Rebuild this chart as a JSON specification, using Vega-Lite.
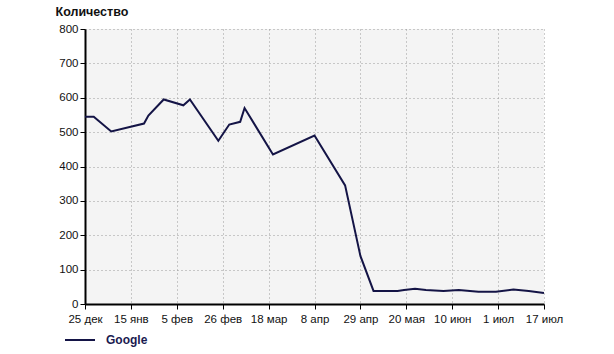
{
  "$schema": "https://vega.github.io/schema/vega-lite/v6.json",
  "autosize": {"type": "none"},
  "width": 459,
  "height": 275,
  "padding": {"left": 85, "top": 29, "right": 70, "bottom": 50},
  "background": "white",
  "data": {
    "values": [
      {"date": "2007-12-25", "count": 545, "series": "Google"},
      {"date": "2007-12-29", "count": 545, "series": "Google"},
      {"date": "2008-01-06", "count": 502, "series": "Google"},
      {"date": "2008-01-21", "count": 525, "series": "Google"},
      {"date": "2008-01-23", "count": 548, "series": "Google"},
      {"date": "2008-01-30", "count": 595, "series": "Google"},
      {"date": "2008-02-08", "count": 578, "series": "Google"},
      {"date": "2008-02-11", "count": 595, "series": "Google"},
      {"date": "2008-02-24", "count": 475, "series": "Google"},
      {"date": "2008-02-29", "count": 522, "series": "Google"},
      {"date": "2008-03-05", "count": 530, "series": "Google"},
      {"date": "2008-03-07", "count": 570, "series": "Google"},
      {"date": "2008-03-20", "count": 435, "series": "Google"},
      {"date": "2008-04-08", "count": 490, "series": "Google"},
      {"date": "2008-04-22", "count": 345, "series": "Google"},
      {"date": "2008-04-29", "count": 140, "series": "Google"},
      {"date": "2008-05-05", "count": 38, "series": "Google"},
      {"date": "2008-05-16", "count": 38, "series": "Google"},
      {"date": "2008-05-19", "count": 41, "series": "Google"},
      {"date": "2008-05-24", "count": 44, "series": "Google"},
      {"date": "2008-05-29", "count": 41, "series": "Google"},
      {"date": "2008-06-06", "count": 38, "series": "Google"},
      {"date": "2008-06-13", "count": 41, "series": "Google"},
      {"date": "2008-06-22", "count": 36, "series": "Google"},
      {"date": "2008-06-30", "count": 36, "series": "Google"},
      {"date": "2008-07-08", "count": 42, "series": "Google"},
      {"date": "2008-07-15", "count": 38, "series": "Google"},
      {"date": "2008-07-22", "count": 32, "series": "Google"}
    ]
  },
  "mark": {"type": "line", "strokeWidth": 2, "clip": true},
  "encoding": {
    "x": {
      "field": "date",
      "type": "temporal",
      "scale": {
        "type": "utc",
        "domain": [
          {"year": 2007, "month": 12, "date": 25, "utc": true},
          {"year": 2008, "month": 7, "date": 22, "utc": true}
        ],
        "nice": false
      },
      "axis": {
        "title": null,
        "values": [
          {"year": 2007, "month": 12, "date": 25, "utc": true},
          {"year": 2008, "month": 1, "date": 15, "utc": true},
          {"year": 2008, "month": 2, "date": 5, "utc": true},
          {"year": 2008, "month": 2, "date": 26, "utc": true},
          {"year": 2008, "month": 3, "date": 18, "utc": true},
          {"year": 2008, "month": 4, "date": 8, "utc": true},
          {"year": 2008, "month": 4, "date": 29, "utc": true},
          {"year": 2008, "month": 5, "date": 20, "utc": true},
          {"year": 2008, "month": 6, "date": 10, "utc": true},
          {"year": 2008, "month": 7, "date": 1, "utc": true},
          {"year": 2008, "month": 7, "date": 22, "utc": true}
        ],
        "labelExpr": "datum.index == 1 ? '17 июл' : utcdate(datum.value) + ' ' + ['янв','фев','мар','апр','мая','июн','июл','авг','сен','окт','ноя','дек'][utcmonth(datum.value)]",
        "labelPadding": 4,
        "labelFlush": false,
        "labelOverlap": false
      }
    },
    "y": {
      "field": "count",
      "type": "quantitative",
      "scale": {"domain": [0, 800], "nice": false},
      "axis": {
        "values": [0, 100, 200, 300, 400, 500, 600, 700, 800],
        "title": "Количество",
        "titleAngle": 0,
        "titleAlign": "left",
        "titleBaseline": "middle",
        "titleX": -30,
        "titleY": -18,
        "titleFont": "Liberation Sans",
        "titleFontSize": 12.5,
        "titleFontWeight": "bold",
        "titleColor": "#111111",
        "labelPadding": 2
      }
    },
    "color": {
      "field": "series",
      "type": "nominal",
      "scale": {"range": ["#141446"]},
      "legend": {
        "title": null,
        "orient": "none",
        "legendX": -21,
        "legendY": 295,
        "symbolType": "stroke",
        "symbolSize": 900,
        "symbolStrokeWidth": 2,
        "labelFont": "Liberation Sans",
        "labelFontSize": 12,
        "labelFontWeight": "bold",
        "labelColor": "#1a1a50",
        "labelOffset": 10
      }
    }
  },
  "config": {
    "view": {"fill": "#f4f4f4", "stroke": null},
    "axis": {
      "labelFont": "Liberation Sans",
      "labelFontSize": 11.5,
      "labelColor": "#111111",
      "domainColor": "#000000",
      "domainWidth": 2,
      "tickColor": "#000000",
      "tickSize": 5,
      "tickWidth": 1,
      "gridColor": "#9a9a9a",
      "gridDash": [1, 3],
      "gridWidth": 1,
      "gridOpacity": 1
    }
  }
}
